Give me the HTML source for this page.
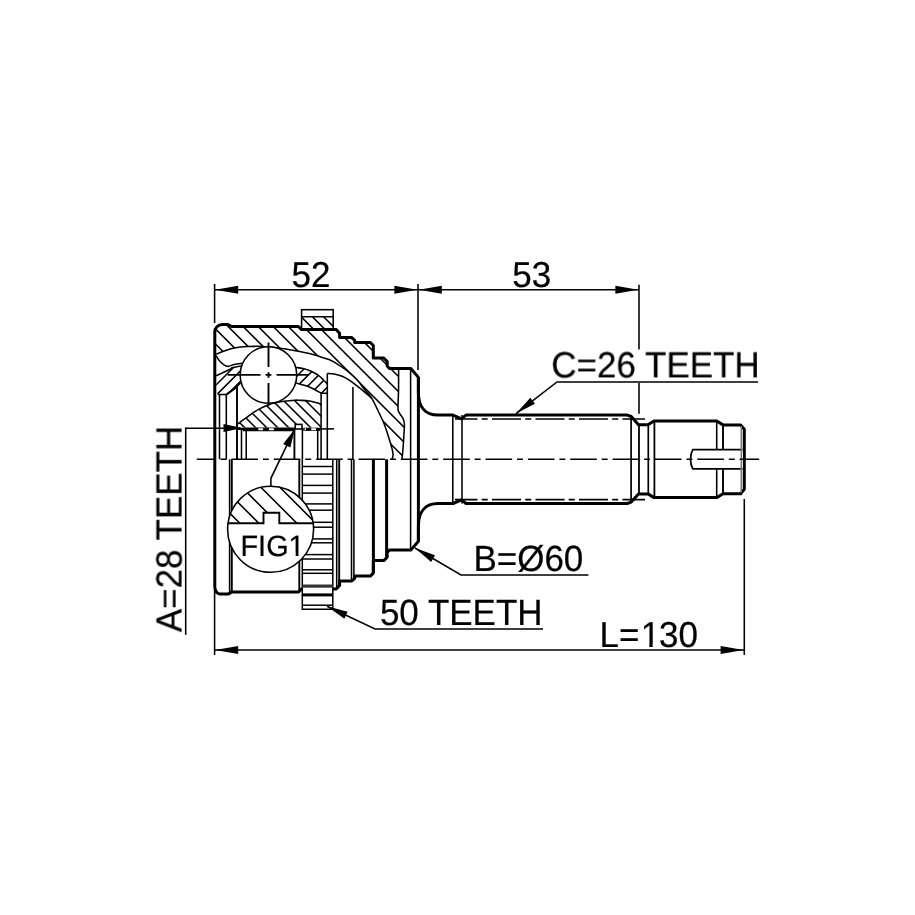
<!DOCTYPE html>
<html lang="en">
<head>
<meta charset="utf-8">
<title>CV joint drawing</title>
<style>
html,body{margin:0;padding:0;background:#fff;}
body{width:915px;height:915px;overflow:hidden;}
svg{display:block;will-change:transform;}
svg text{font-family:"Liberation Sans",Arial,Helvetica,sans-serif;text-rendering:geometricPrecision;fill:#000;stroke:#000;stroke-width:0.22px;}
</style>
</head>
<body>
<svg width="915" height="915" viewBox="0 0 915 915">
<rect width="915" height="915" fill="#fff"/>
<defs>
<clipPath id="ch"><path d="M214.8 354.1 L214.8 332 A7.4 7.4 0 0 1 222.2 324.5 L228 324.5 L231.5 326.5 L298.5 326.5 L301.4 329.6 L336.2 329.6 L339.6 333.2 L339.6 337.6 L351.8 337.6 L354.7 340.3 L354.7 342.5 L370.3 342.5 L373.3 345.5 L373.3 358 L383.8 358 L387.2 361.5 L387.2 366 L389.5 368.5 L398.6 368.5 C398.6 370.42 398.62 376.12 398.6 380 C398.58 383.88 398.6 387.53 398.5 391.8 C398.4 396.07 398.05 402.48 398 405.6 C397.95 408.72 397.82 409.02 398.2 410.5 C398.58 411.98 399.5 413.18 400.3 414.5 C401.1 415.82 402.32 416.77 403 418.4 C403.68 420.03 404.25 421.53 404.4 424.3 C404.55 427.07 404.13 430.9 403.9 435 C403.67 439.1 403.32 444.9 403 448.9 C402.68 452.9 402.17 457.32 402 459 L392.1 459 C392.27 458.3 393.1 456.48 393.1 454.8 C393.1 453.12 392.75 451.53 392.1 448.9 C391.45 446.27 390.5 443.1 389.2 439 C387.9 434.9 385.95 428.57 384.3 424.3 C382.65 420.03 381.43 417.8 379.3 413.4 C377.17 409 374.1 402.07 371.5 397.9 C368.9 393.73 366.08 391.38 363.7 388.4 C361.32 385.42 359.93 382.92 357.2 380 C354.47 377.08 349.53 372.83 347.3 370.9 C345.07 368.97 345.98 369.85 343.8 368.4 C341.62 366.95 336.67 363.68 334.2 362.2 C331.73 360.72 331.37 360.42 329 359.5 C326.63 358.58 323.28 357.68 320 356.7 C316.72 355.72 314.35 354.77 309.3 353.6 C304.25 352.43 296.25 350.8 289.7 349.7 C283.15 348.6 274.55 347.55 270 347 C265.45 346.45 266.18 346.47 262.4 346.4 C258.62 346.33 251.97 346.32 247.3 346.6 C242.63 346.88 238.12 347.4 234.4 348.1 C230.68 348.8 228.03 349.8 225 350.8 C221.97 351.8 217.67 353.55 216.2 354.1 Z"/></clipPath>
<clipPath id="ca"><rect x="301.6" y="316.8" width="31.6" height="12.8"/></clipPath>
<clipPath id="ci"><path d="M238 423.8 C239.22 422.9 242.93 420.13 245.3 418.4 C247.67 416.67 249.75 415.03 252.2 413.4 C254.65 411.77 257.37 410 260 408.6 C262.63 407.2 265.33 406 268 405 C270.67 404 273.38 403.22 276 402.6 C278.62 401.98 280.6 401.7 283.7 401.3 C286.8 400.9 291.97 400.37 294.6 400.2 C297.23 400.03 297.05 400.15 299.5 400.3 C301.95 400.45 305.7 400.48 309.3 401.1 C312.9 401.72 319.13 403.52 321.1 404 L321.1 427.4 L238 427.4 Z"/></clipPath>
<clipPath id="cl"><path d="M216.2 375.7 L232.3 368.2 L241.8 366 L248 364 L248 380 L240.3 382.6 C239.25 383.67 236.27 387.05 234 389 C231.73 390.95 227.92 393.42 226.7 394.3 L217.8 394.3 L216.2 392 Z"/></clipPath>
<clipPath id="cr"><path d="M290 366 L296.1 367.4 C297.25 367.6 300.8 368.08 303 368.6 C305.2 369.12 307.38 369.77 309.3 370.5 C311.22 371.23 312.85 372.08 314.5 373 C316.15 373.92 317.7 374.83 319.2 376 C320.7 377.17 322.15 378.67 323.5 380 C324.85 381.33 326.67 383.33 327.3 384 L327.3 393.2 L321.1 393.2 C319.13 392.17 313.47 388.68 309.3 387 C305.13 385.32 298.3 383.75 296.1 383.1 L290 381 Z"/></clipPath>
<clipPath id="cf"><path d="M228.02 523.3 A43 43 0 0 1 313.18 523.3 L279.3 523.3 L279.3 512.7 L263.5 512.7 L263.5 523.3 Z"/></clipPath>
</defs>
<g stroke="#000" fill="none" stroke-linecap="butt">
<path d="M71.1 320 L213.1 462 M86.15 320 L228.15 462 M101.2 320 L243.2 462 M116.25 320 L258.25 462 M131.3 320 L273.3 462 M146.35 320 L288.35 462 M161.4 320 L303.4 462 M176.45 320 L318.45 462 M191.5 320 L333.5 462 M206.55 320 L348.55 462 M221.6 320 L363.6 462 M236.65 320 L378.65 462 M251.7 320 L393.7 462 M266.75 320 L408.75 462 M281.8 320 L423.8 462 M296.85 320 L438.85 462 M311.9 320 L453.9 462 M326.95 320 L468.95 462 M342 320 L484 462 M357.05 320 L499.05 462 M372.1 320 L514.1 462 M387.15 320 L529.15 462 M402.2 320 L544.2 462" stroke-width="1.55" fill="none" clip-path="url(#ch)"/>
<path d="M288.2 315 L304.2 331 M299.4 315 L315.4 331 M310.6 315 L326.6 331 M321.8 315 L337.8 331 M333 315 L349 331" stroke-width="1.55" fill="none" clip-path="url(#ca)"/>
<path d="M215 398 L246 429 M226 398 L257 429 M237 398 L268 429 M248 398 L279 429 M259 398 L290 429 M270 398 L301 429 M281 398 L312 429 M292 398 L323 429 M303 398 L334 429 M314 398 L345 429" stroke-width="1.55" fill="none" clip-path="url(#ci)"/>
<path d="M216.2 364 L184.2 396 M226.6 364 L194.6 396 M237 364 L205 396 M247.4 364 L215.4 396 M257.8 364 L225.8 396 M268.2 364 L236.2 396" stroke-width="1.55" fill="none" clip-path="url(#cl)"/>
<path d="M296.6 366 L267.6 395 M307 366 L278 395 M317.4 366 L288.4 395 M327.8 366 L298.8 395 M338.2 366 L309.2 395 M348.6 366 L319.6 395" stroke-width="1.55" fill="none" clip-path="url(#cr)"/>
<path d="M216.2 354.1 C217.67 353.55 221.97 351.8 225 350.8 C228.03 349.8 230.68 348.8 234.4 348.1 C238.12 347.4 242.63 346.88 247.3 346.6 C251.97 346.32 258.62 346.33 262.4 346.4 C266.18 346.47 265.45 346.45 270 347 C274.55 347.55 283.15 348.6 289.7 349.7 C296.25 350.8 304.25 352.43 309.3 353.6 C314.35 354.77 316.72 355.72 320 356.7 C323.28 357.68 326.63 358.58 329 359.5 C331.37 360.42 331.73 360.72 334.2 362.2 C336.67 363.68 341.62 366.95 343.8 368.4 C345.98 369.85 345.07 368.97 347.3 370.9 C349.53 372.83 354.47 377.08 357.2 380 C359.93 382.92 361.32 385.42 363.7 388.4 C366.08 391.38 368.9 393.73 371.5 397.9 C374.1 402.07 377.17 409 379.3 413.4 C381.43 417.8 382.65 420.03 384.3 424.3 C385.95 428.57 387.9 434.9 389.2 439 C390.5 443.1 391.45 446.27 392.1 448.9 C392.75 451.53 393.1 453.12 393.1 454.8 C393.1 456.48 392.27 458.3 392.1 459" stroke-width="1.55" fill="none"/>
<path d="M327.3 373.4 C328.45 373.5 331.97 373.62 334.2 374 C336.43 374.38 338.9 375.1 340.7 375.7 C342.5 376.3 343.37 376.72 345 377.6 C346.63 378.48 348.67 379.75 350.5 381 C352.33 382.25 353.98 383.55 356 385.1 C358.02 386.65 360.4 388.48 362.6 390.3 C364.8 392.12 367.72 394.68 369.2 396 C370.68 397.32 371.12 397.83 371.5 398.2" stroke-width="1.55" fill="none"/>
<path d="M398.6 368.5 C398.6 370.42 398.62 376.12 398.6 380 C398.58 383.88 398.6 387.53 398.5 391.8 C398.4 396.07 398.05 402.48 398 405.6 C397.95 408.72 397.82 409.02 398.2 410.5 C398.58 411.98 399.5 413.18 400.3 414.5 C401.1 415.82 402.32 416.77 403 418.4 C403.68 420.03 404.25 421.53 404.4 424.3 C404.55 427.07 404.13 430.9 403.9 435 C403.67 439.1 403.32 444.9 403 448.9 C402.68 452.9 402.17 457.32 402 459" stroke-width="1.55" fill="none"/>
<path d="M216.2 355.7 C216.83 356.67 218.2 359.73 220 361.5 C221.8 363.27 224.63 365.82 227 366.3 C229.37 366.78 231.65 364.9 234.2 364.4 C236.75 363.9 240.95 363.48 242.3 363.3" stroke-width="1.55" fill="none"/>
<path d="M231 368 C231.83 367.82 234.23 367.2 236 366.9 C237.77 366.6 240.67 366.32 241.6 366.2" stroke-width="1.55" fill="none"/>
<path d="M216.2 375.7 L232.3 368.2" stroke-width="1.55" fill="none"/>
<path d="M217.8 394.5 L226.7 394.5" stroke-width="1.55" fill="none"/>
<path d="M226.7 394.3 C227.92 393.42 231.73 390.95 234 389 C236.27 387.05 239.25 383.67 240.3 382.6" stroke-width="2.3" fill="none"/>
<path d="M296.1 367.4 C297.25 367.6 300.8 368.08 303 368.6 C305.2 369.12 307.38 369.77 309.3 370.5 C311.22 371.23 312.85 372.08 314.5 373 C316.15 373.92 317.7 374.83 319.2 376 C320.7 377.17 322.15 378.67 323.5 380 C324.85 381.33 326.67 383.33 327.3 384" stroke-width="1.55" fill="none"/>
<path d="M296.1 383.1 C298.3 383.75 305.13 385.32 309.3 387 C313.47 388.68 319.13 392.17 321.1 393.2 L327.3 393.2" stroke-width="1.55" fill="none"/>
<path d="M238 423.8 C239.22 422.9 242.93 420.13 245.3 418.4 C247.67 416.67 249.75 415.03 252.2 413.4 C254.65 411.77 257.37 410 260 408.6 C262.63 407.2 265.33 406 268 405 C270.67 404 273.38 403.22 276 402.6 C278.62 401.98 280.6 401.7 283.7 401.3 C286.8 400.9 291.97 400.37 294.6 400.2 C297.23 400.03 297.05 400.15 299.5 400.3 C301.95 400.45 305.7 400.48 309.3 401.1 C312.9 401.72 319.13 403.52 321.1 404" stroke-width="1.55" fill="none"/>
<line x1="219.5" y1="394.5" x2="219.5" y2="459.3" stroke-width="1.55"/>
<line x1="226.3" y1="394.5" x2="226.3" y2="459.3" stroke-width="1.55"/>
<line x1="237" y1="386" x2="237" y2="459.3" stroke-width="1.9"/>
<line x1="241.5" y1="428" x2="241.5" y2="459.3" stroke-width="1.55"/>
<line x1="246.2" y1="430" x2="246.2" y2="459.3" stroke-width="1.55"/>
<line x1="294.4" y1="429" x2="294.4" y2="459.3" stroke-width="1.9"/>
<line x1="302.4" y1="428" x2="302.4" y2="459.3" stroke-width="1.55"/>
<line x1="317.7" y1="429.7" x2="317.7" y2="459.3" stroke-width="1.55"/>
<line x1="321.1" y1="393.2" x2="321.1" y2="459.3" stroke-width="1.55"/>
<line x1="327.3" y1="373.5" x2="327.3" y2="459.3" stroke-width="1.55"/>
<line x1="352.9" y1="386.9" x2="352.9" y2="459.3" stroke-width="1.55"/>
<line x1="410.6" y1="368.5" x2="410.6" y2="550.1" stroke-width="1.55"/>
<line x1="229.6" y1="459.3" x2="229.6" y2="592.2" stroke-width="1.55"/>
<line x1="231.8" y1="459.3" x2="231.8" y2="592.2" stroke-width="1.9"/>
<line x1="299.3" y1="459.3" x2="299.3" y2="592.2" stroke-width="1.9"/>
<line x1="336.7" y1="459.3" x2="336.7" y2="588.5" stroke-width="1.55"/>
<line x1="339.2" y1="459.3" x2="339.2" y2="585.5" stroke-width="1.9"/>
<line x1="351.5" y1="459.3" x2="351.5" y2="581" stroke-width="1.55"/>
<line x1="353.9" y1="459.3" x2="353.9" y2="578" stroke-width="1.55"/>
<line x1="373.4" y1="459.3" x2="373.4" y2="573" stroke-width="3"/>
<line x1="386.6" y1="459.3" x2="386.6" y2="557" stroke-width="3"/>
<line x1="418.4" y1="377.4" x2="418.4" y2="541.2" stroke-width="3"/>
<line x1="452.8" y1="415.1" x2="452.8" y2="503.5" stroke-width="1.55"/>
<line x1="462" y1="415.1" x2="462" y2="503.5" stroke-width="1.55"/>
<line x1="631.1" y1="416.4" x2="631.1" y2="502.2" stroke-width="1.7"/>
<line x1="639" y1="424.7" x2="639" y2="493.9" stroke-width="1.8"/>
<line x1="648.3" y1="424.7" x2="648.3" y2="493.9" stroke-width="1.7"/>
<line x1="654.4" y1="421" x2="654.4" y2="497.6" stroke-width="1.8"/>
<line x1="716.7" y1="421" x2="716.7" y2="497.6" stroke-width="1.55"/>
<line x1="723" y1="424.9" x2="723" y2="493.7" stroke-width="1.9"/>
<line x1="455" y1="419" x2="645" y2="419" stroke-width="1.55" stroke-dasharray="29 4.2 6 4.3" stroke-dashoffset="6.5"/>
<line x1="455" y1="499.6" x2="645" y2="499.6" stroke-width="1.55" stroke-dasharray="29 4.2 6 4.3" stroke-dashoffset="6.5"/>
<rect x="301.6" y="309.7" width="31.6" height="19.9" fill="none" stroke-width="1.55"/>
<line x1="301.6" y1="316.8" x2="333.2" y2="316.8" stroke-width="1.55"/>
<path d="M214.8 459.3 L214.8 332 A7.4 7.4 0 0 1 222.2 324.5 L228 324.5 L231.5 326.5 L298.5 326.5 L301.4 329.6 L336.2 329.6 L339.6 333.2 L339.6 337.6 L351.8 337.6 L354.7 340.3 L354.7 342.5 L370.3 342.5 L373.3 345.5 L373.3 358 L383.8 358 L387.2 361.5 L387.2 366 L389.5 368.5 L410.8 368.5 L418.4 377.4 L418.4 392.5 C418.4 407 425.5 415.1 438 415.1 L453 415.1 L461.5 418.8 L466 415.1 L627.2 415.1 L631.2 416.5 L638.5 424.7 L648 424.7 L654 421 L716.7 421 L723 424.9 L740.6 424.9 L744.3 429.3 L744.3 489.3 L740.6 493.7 L723 493.7 L716.7 497.6 L654 497.6 L648 493.9 L638.5 493.9 L631.2 502.1 L627.2 503.5 L466 503.5 L461.5 499.8 L453 503.5 L438 503.5 C425.5 503.5 418.4 511.6 418.4 526.1 L418.4 526.1 L418.4 541.2 L410.8 550.1 L389.5 550.1 L387.2 552.6 L387.2 557.1 L383.8 560.6 L373.3 560.6 L373.3 573.1 L370.3 576.1 L354.7 576.1 L354.7 578.3 L351.8 581 L339.6 581 L339.6 585.4 L336.2 589 L301.4 589 L298.5 592.1 L231.5 592.1 L228 594.1 L219.8 594.1 Q215.2 593.2 214.8 587.2 Z" stroke-width="3" fill="none" stroke-linejoin="round"/>
<rect x="302.3" y="460.3" width="30.5" height="148.9" fill="#fff" stroke="none"/>
<path d="M302.3 459.3 L302.3 609.2 L332.8 609.2 L332.8 459.3" stroke-width="1.5" fill="none"/>
<line x1="302.3" y1="466.5" x2="332.8" y2="466.5" stroke-width="1.5"/>
<line x1="302.3" y1="474.1" x2="332.8" y2="474.1" stroke-width="1.5"/>
<line x1="302.3" y1="485.4" x2="332.8" y2="485.4" stroke-width="1.5"/>
<line x1="302.3" y1="493.1" x2="332.8" y2="493.1" stroke-width="1.5"/>
<line x1="302.3" y1="503.9" x2="332.8" y2="503.9" stroke-width="1.5"/>
<line x1="302.3" y1="510.2" x2="332.8" y2="510.2" stroke-width="1.5"/>
<line x1="302.3" y1="522.3" x2="332.8" y2="522.3" stroke-width="1.5"/>
<line x1="302.3" y1="527.2" x2="332.8" y2="527.2" stroke-width="1.5"/>
<line x1="302.3" y1="538.9" x2="332.8" y2="538.9" stroke-width="1.5"/>
<line x1="302.3" y1="542.8" x2="332.8" y2="542.8" stroke-width="1.5"/>
<line x1="302.3" y1="554.6" x2="332.8" y2="554.6" stroke-width="1.5"/>
<line x1="302.3" y1="559" x2="332.8" y2="559" stroke-width="1.5"/>
<line x1="302.3" y1="569.8" x2="332.8" y2="569.8" stroke-width="1.5"/>
<line x1="302.3" y1="573.3" x2="332.8" y2="573.3" stroke-width="1.5"/>
<line x1="302.3" y1="605.2" x2="332.8" y2="605.2" stroke-width="1.5"/>
<line x1="302.3" y1="586.1" x2="332.8" y2="586.1" stroke-width="3.2" stroke="#333"/>
<line x1="302.3" y1="594.9" x2="332.8" y2="594.9" stroke-width="3"/>
<circle cx="268.45" cy="375" r="28.3" fill="#fff" stroke-width="1.55"/>
<path d="M227.7 374.9 L260.5 374.9 M265.6 374.9 L271.4 374.9 M276.5 374.9 L308.6 374.9" stroke-width="1.9" fill="none"/>
<path d="M268.5 342.6 L268.5 367 M268.5 372.2 L268.5 377.8 M268.5 383 L268.5 405.5" stroke-width="1.9" fill="none"/>
<line x1="243" y1="429.3" x2="295" y2="429.3" stroke-width="3.7"/>
<line x1="238" y1="428.9" x2="243" y2="428.9" stroke-width="2.2"/>
<line x1="303.3" y1="429.3" x2="320.2" y2="429.3" stroke-width="3.2"/>
<path d="M258.3 429.3 L263.1 429.3 M269 429.3 L273.9 429.3 M304.6 429.3 L306 429.3 M311.2 429.3 L316 429.3" stroke-width="1.9" fill="none" stroke="#fff"/>
<rect x="295.2" y="424.4" width="6.8" height="4.6" fill="#fff" stroke-width="1.55"/>
<path d="M742.6 449.6 L692.8 449.6 C691.5 452 690.5 455 690.5 459.2 C690.5 463.5 691.5 466.5 692.8 468.9 L742.6 468.9" stroke-width="1.75" fill="#fff"/>
<line x1="741.3" y1="426" x2="741.3" y2="492.6" stroke-width="1.55" stroke="#777"/>
<line x1="196.8" y1="459.3" x2="759.2" y2="459.3" stroke-width="1.55" stroke-dasharray="26.6 4.9 5.9 4.95" stroke-dashoffset="7.7"/>
<circle cx="270.6" cy="529.3" r="43" fill="#fff" stroke="none"/>
<text transform="translate(240.5 555.6) scale(0.9823 1)" font-size="29.37">FIG1</text>
<rect x="290" y="553" width="5.68" height="5" fill="#fff" stroke="none"/>
<rect x="298.53" y="553" width="5.47" height="5" fill="#fff" stroke="none"/>
<circle cx="270.6" cy="529.3" r="43" fill="none" stroke-width="1.55"/>
<path d="M200.6 484 L241.6 525 M219.6 484 L260.6 525 M238.6 484 L279.6 525 M257.6 484 L298.6 525 M276.6 484 L317.6 525 M295.6 484 L336.6 525 M314.6 484 L355.6 525" stroke-width="1.55" fill="none" clip-path="url(#cf)"/>
<path d="M228.02 523.3 L263.5 523.3 L263.5 512.7 L279.3 512.7 L279.3 523.3 L313.18 523.3" stroke-width="1.9" fill="none"/>
<line x1="214.6" y1="284" x2="214.6" y2="323" stroke-width="1.55"/>
<line x1="418" y1="284" x2="418" y2="370" stroke-width="1.55"/>
<line x1="639" y1="284.8" x2="639" y2="349.6" stroke-width="1.55"/>
<line x1="639" y1="383" x2="639" y2="413.8" stroke-width="1.55"/>
<line x1="214.6" y1="590" x2="214.6" y2="655" stroke-width="1.55"/>
<line x1="744.3" y1="499" x2="744.3" y2="655" stroke-width="1.55"/>
<line x1="215" y1="289.8" x2="639" y2="289.8" stroke-width="1.55"/>
<line x1="215" y1="650" x2="744" y2="650" stroke-width="1.55"/>
<path d="M215.2 289.8 L238.2 285.8 L238.2 293.8 Z" fill="#000" stroke="none"/>
<path d="M417.4 289.8 L394.4 293.8 L394.4 285.8 Z" fill="#000" stroke="none"/>
<path d="M418.8 289.8 L441.8 285.8 L441.8 293.8 Z" fill="#000" stroke="none"/>
<path d="M638.4 289.8 L615.4 293.8 L615.4 285.8 Z" fill="#000" stroke="none"/>
<path d="M215.2 650 L238.2 646 L238.2 654 Z" fill="#000" stroke="none"/>
<path d="M743.6 650 L720.6 654 L720.6 646 Z" fill="#000" stroke="none"/>
<line x1="185.7" y1="427.4" x2="185.7" y2="634.9" stroke-width="1.55"/>
<line x1="185.6" y1="428.2" x2="240" y2="428.2" stroke-width="1.55"/>
<line x1="318" y1="428.9" x2="334" y2="428.9" stroke-width="1.55"/>
<path d="M242.5 428 L223.5 432 L223.5 424 Z" fill="#000" stroke="none"/>
<path d="M270.9 486.5 L270.9 478.3 L294.6 429.4" stroke-width="1.55" fill="none"/>
<path d="M294.8 429 L290.33 447.39 L283.13 443.9 Z" fill="#000" stroke="none"/>
<path d="M516 413.6 L557 382 L758 382" stroke-width="1.55" fill="none"/>
<path d="M516 413.6 L530.31 397.77 L534.95 403.79 Z" fill="#000" stroke="none"/>
<path d="M415 548 L461 575 L588.4 575" stroke-width="1.55" fill="none"/>
<path d="M415 548 L435.03 555.35 L431.19 561.91 Z" fill="#000" stroke="none"/>
<path d="M327 606.3 L375 629 L543 629" stroke-width="1.55" fill="none"/>
<path d="M327 606.3 L347.61 611.84 L344.36 618.71 Z" fill="#000" stroke="none"/>
</g>
<g opacity="0.999">
<text transform="translate(291.6 286.5) scale(0.9709 1)" font-size="36.05">52</text>
<text transform="translate(512.2 286.6) scale(0.9709 1)" font-size="36.05">53</text>
<text transform="translate(551.3 377.4) scale(0.9611 1)" font-size="36.42">C=26 TEETH</text>
<text transform="translate(473.4 570.8) scale(0.9611 1)" font-size="36.42">B=Ø60</text>
<text transform="translate(379.9 625.4) scale(0.9611 1)" font-size="36.42">50 TEETH</text>
<text transform="translate(599.6 647.2) scale(0.9709 1)" font-size="36.05" dx="0 0 1.15 -1.15 0">L=130</text>
<rect x="642" y="644" width="7.27" height="5" fill="#fff"/>
<rect x="652.67" y="644" width="6.33" height="5" fill="#fff"/>
<text transform="translate(181.6 632.2) rotate(-90) scale(0.9611 1)" font-size="36.42">A=28 TEETH</text>
</g>
</svg>
</body>
</html>
